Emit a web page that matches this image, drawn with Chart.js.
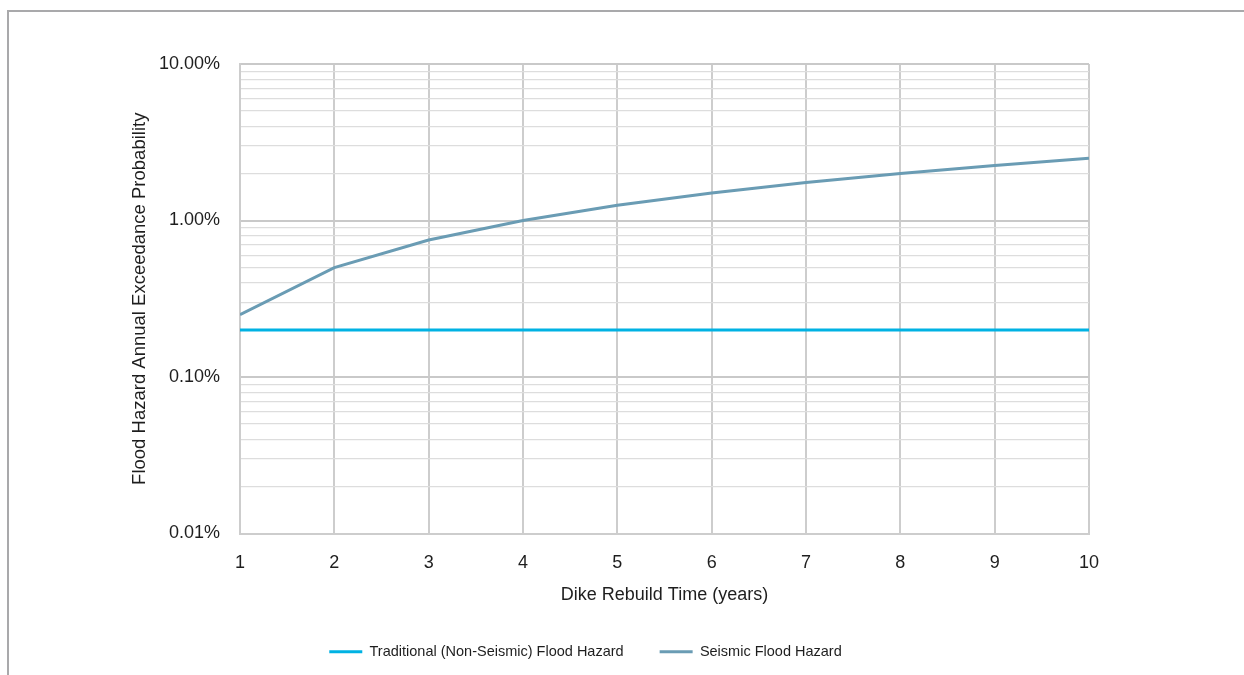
<!DOCTYPE html>
<html>
<head>
<meta charset="utf-8">
<script src="https://cdn.jsdelivr.net/npm/chart.js@4/dist/chart.umd.min.js"></script>
<style>
  html, body { margin: 0; padding: 0; background: #ffffff; overflow: hidden; width: 1244px; height: 675px; }
  #frame { position: absolute; left: 7px; top: 10px; width: 1260px; height: 700px; border: 2px solid #a9a9ab; box-sizing: border-box; }
  #wrap { position: absolute; left: 10px; top: 12px; width: 1151px; height: 657px; }
</style>
</head>
<body>
<div id="frame"></div>
<div id="wrap"><canvas id="chart" width="1151" height="657"></canvas></div>
<script>
// Dike rebuild time in years
const rebuildYears = [1, 2, 3, 4, 5, 6, 7, 8, 9, 10];
// Annual exceedance probability of flooding, in percent
const traditionalHazard = [0.2, 0.2, 0.2, 0.2, 0.2, 0.2, 0.2, 0.2, 0.2, 0.2];
const seismicHazard = [0.25, 0.5, 0.75, 1.0, 1.25, 1.5, 1.75, 2.0, 2.25, 2.5];
// Decade bounds of the logarithmic probability axis (percent)
const yDecades = [0.01, 0.1, 1, 10];

const FONT = '"Liberation Sans", Arial, sans-serif';
const TEXT = '#1e1e1e';

function isDecade(v) {
  const l = Math.log10(v);
  return Math.abs(l - Math.round(l)) < 1e-6;
}

const points = (ys) => rebuildYears.map((x, i) => ({ x: x, y: ys[i] }));

new Chart(document.getElementById('chart'), {
  type: 'line',
  data: {
    datasets: [
      {
        label: 'Traditional (Non-Seismic) Flood Hazard',
        data: points(traditionalHazard),
        borderColor: '#00b2e3',
        backgroundColor: '#00b2e3',
        borderWidth: 3,
        pointRadius: 0,
        tension: 0
      },
      {
        label: 'Seismic Flood Hazard',
        data: points(seismicHazard),
        borderColor: '#6a9cb4',
        backgroundColor: '#6a9cb4',
        borderWidth: 3,
        pointRadius: 0,
        tension: 0
      }
    ]
  },
  options: {
    responsive: false,
    animation: false,
    layout: { padding: { top: 52, left: 72, right: 72, bottom: 0 } },
    plugins: {
      tooltip: { enabled: false },
      legend: {
        position: 'bottom',
        align: 'center',
        labels: {
          boxWidth: 33,
          boxHeight: 3,
          padding: 36,
          color: TEXT,
          font: { family: FONT, size: 14.5 },
          generateLabels(chart) {
            const items = Chart.defaults.plugins.legend.labels.generateLabels(chart);
            return items.map(it => Object.assign(it, { fillStyle: it.strokeStyle, lineWidth: 0 }));
          }
        }
      }
    },
    scales: {
      x: {
        type: 'linear',
        min: rebuildYears[0],
        max: rebuildYears[rebuildYears.length - 1],
        afterFit(scale) { scale.height = 75; },
        ticks: {
          stepSize: 1,
          padding: 19,
          color: TEXT,
          font: { family: FONT, size: 18 }
        },
        grid: { color: '#cdcdcd', lineWidth: 2, drawTicks: false },
        border: { display: true, color: '#cdcdcd', width: 2 },
        title: {
          display: true,
          text: 'Dike Rebuild Time (years)',
          color: TEXT,
          font: { family: FONT, size: 18 },
          padding: { top: 0, bottom: 3 }
        }
      },
      y: {
        type: 'logarithmic',
        min: yDecades[0],
        max: yDecades[yDecades.length - 1],
        afterFit(scale) { scale.width = 158; },
        afterBuildTicks(scale) {
          const ticks = [];
          for (let d = 0; d < yDecades.length - 1; d++) {
            for (let k = 1; k <= 9; k++) {
              ticks.push({ value: +(k * yDecades[d]).toPrecision(6) });
            }
          }
          ticks.push({ value: yDecades[yDecades.length - 1] });
          scale.ticks = ticks;
        },
        ticks: {
          autoSkip: false,
          padding: 20,
          color: TEXT,
          font: { family: FONT, size: 18 },
          callback(value) {
            return isDecade(value) ? value.toFixed(2) + '%' : '';
          }
        },
        grid: {
          drawTicks: false,
          color: (ctx) => (ctx.tick && isDecade(ctx.tick.value)) ? '#c9c9c9' : '#dddddd',
          lineWidth: (ctx) => (ctx.tick && isDecade(ctx.tick.value)) ? 2 : 1.3
        },
        border: { display: true, color: '#cdcdcd', width: 2 },
        title: {
          display: true,
          text: 'Flood Hazard Annual Exceedance Probability',
          color: TEXT,
          font: { family: FONT, size: 18.5 },
          padding: { top: 47, bottom: 0 }
        }
      }
    }
  }
});
</script>
</body>
</html>
